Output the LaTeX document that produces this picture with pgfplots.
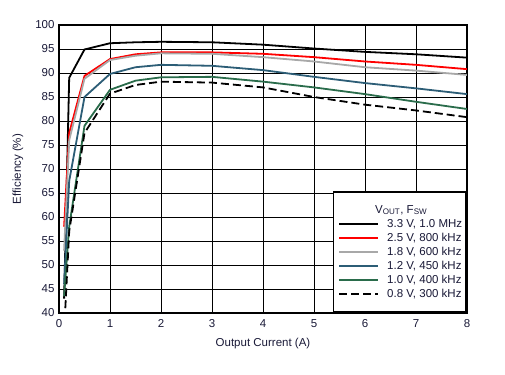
\documentclass[border=0pt]{standalone}
\usepackage{fontspec}
\setmainfont{Liberation Sans}
\usepackage{pgfplots}
\pgfplotsset{compat=1.18}
\definecolor{txt}{RGB}{25,25,55}
\definecolor{cgray}{RGB}{168,168,168}
\definecolor{cblue}{RGB}{44,93,118}
\definecolor{cgreen}{RGB}{42,108,75}
\definecolor{cid}{RGB}{160,168,185}
\begin{document}
\begin{tikzpicture}
\begin{axis}[
  scale only axis,
  width=408bp, height=288bp,
  xmin=0, xmax=8, ymin=40, ymax=100,
  xtick={0,1,...,8}, ytick={40,45,...,100},
  grid=major,
  major grid style={black, line width=0.8bp},
  axis line style={line width=2bp},
  major tick length=0pt,
  font=\fontsize{11.5bp}{13bp}\selectfont,
  tick label style={text=txt, font=\fontsize{11.5bp}{13bp}\selectfont},
  /pgf/number format/assume math mode=true,
  xticklabel style={yshift=-3bp},
  yticklabel style={xshift=-1bp},
  xlabel={Output Current (A)},
  ylabel={Efficiency (\%)},
  xlabel style={at={(axis description cs:0.5,-0.1146)}, anchor=base, text=txt},
  ylabel style={at={(axis description cs:-0.1005,0.5)}, anchor=center, text=txt},
  legend style={at={(1,0)}, anchor=south east, draw=black, line width=1.6bp,
    font=\fontsize{11.5bp}{13bp}\selectfont, text=txt,
    inner xsep=3bp, inner ysep=11bp,
    nodes={inner sep=1bp, text height=9bp, text depth=3bp},
    row sep=0bp},
  legend cell align=left,
  legend image code/.code={\path (-2bp,0bp) (46bp,0bp); \draw[#1] (0bp,0bp) -- (39bp,0bp);},
  every axis plot/.append style={line width=1.8bp},
]
\addlegendimage{empty legend}
\addlegendentry{\hspace*{-12bp}V\textsubscript{OUT}, F\textsubscript{SW}}

\addplot[black] coordinates {(0.1,43) (0.2,89) (0.5,94.9) (1,96.2) (1.5,96.4) (2,96.5) (3,96.4) (4,95.9) (5,95.1) (6,94.4) (7,93.9) (8,93.2)};
\addlegendentry{3.3 V, 1.0 MHz}
\addplot[red] coordinates {(0.1,58) (0.2,77.5) (0.5,89.4) (1,92.9) (1.5,93.9) (2,94.3) (3,94.3) (4,94.0) (5,93.3) (6,92.4) (7,91.7) (8,90.8)};
\addlegendentry{2.5 V, 800 kHz}
\addplot[cgray] coordinates {(0.1,53) (0.2,76) (0.5,88.8) (1,92.7) (1.5,93.6) (2,94.1) (3,94.0) (4,93.3) (5,92.4) (6,91.2) (7,90.5) (8,89.6)};
\addlegendentry{1.8 V, 600 kHz}
\addplot[cblue] coordinates {(0.1,46) (0.2,67.5) (0.5,85) (1,89.8) (1.5,91.2) (2,91.7) (3,91.5) (4,90.6) (5,89.2) (6,87.9) (7,86.8) (8,85.6)};
\addlegendentry{1.2 V, 450 kHz}
\addplot[cgreen] coordinates {(0.1,43.5) (0.2,58) (0.5,79) (1,86.5) (1.5,88.4) (2,89.1) (3,89.2) (4,88.2) (5,87.0) (6,85.6) (7,84.0) (8,82.5)};
\addlegendentry{1.0 V, 400 kHz}
\addplot[black, dash pattern=on 8bp off 4bp] coordinates {(0.1,36) (0.2,57) (0.5,77.5) (1,85.7) (1.5,87.5) (2,88.2) (3,88.0) (4,87.0) (5,85.0) (6,83.4) (7,82.2) (8,80.8)};
\addlegendentry{0.8 V, 300 kHz}

\node[text=cid, font=\fontsize{8.5bp}{10bp}\selectfont] at (rel axis cs:1.049,-0.128) {D002};
\end{axis}
\pgfresetboundingbox
\useasboundingbox (-59bp,-62bp) rectangle (446bp,313bp);
\end{tikzpicture}
\end{document}
